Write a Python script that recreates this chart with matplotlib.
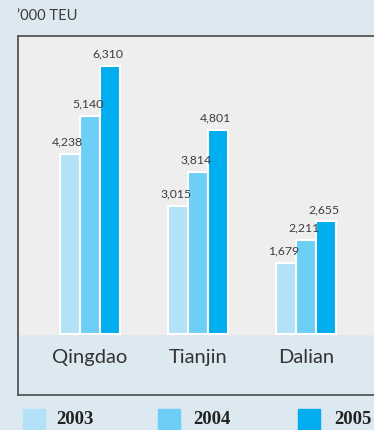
import matplotlib.pyplot as plt
import matplotlib.patches as mpatches
import numpy as np

# Container throughput, thousand TEU
ports = ['Qingdao', 'Tianjin', 'Dalian']
years = ['2003', '2004', '2005']
teu_2003 = [4238, 3015, 1679]
teu_2004 = [5140, 3814, 2211]
teu_2005 = [6310, 4801, 2655]
colors = ['#b3e1f7', '#6dcff6', '#00aeef']

W, H = 374, 431
fig = plt.figure(figsize=(W / 100, H / 100), dpi=100)
fig.patch.set_facecolor('#dde9f1')

# panel in pixel units: left 18, top 37, bottom 396, runs off the right edge
ax = fig.add_axes([18 / W, (H - 396) / H, (W + 4 - 18) / W, (396 - 37) / H])
ax.set_facecolor('#dde9f1')

px_per_unit = 268 / 6310
y_lo = -(396 - 335) / px_per_unit
y_hi = (335 - 37) / px_per_unit
ax.set_ylim(y_lo, y_hi)
ax.set_xlim((18 - 90) / 108, (W + 4 - 90) / 108)
ax.axhspan(0, y_hi, color='#eeeeee', zorder=0)

x = np.arange(len(ports))
bw = 20 / 108
for i, (vals, c) in enumerate(zip([teu_2003, teu_2004, teu_2005], colors)):
    xs = x + (i - 1) * bw
    ax.bar(xs, vals, width=bw, color=c, edgecolor='white', linewidth=1.5, zorder=2)
    for xi, v in zip(xs, vals):
        ax.text(xi - 0.02, v + 170, f'{v:,}', ha='center', va='bottom', fontsize=8.8,
                color='#3d3d3d', family='Lato')

for xi, name in zip(x, ports):
    ax.text(xi, -330, name, ha='center', va='top', fontsize=14.5,
            color='#333333', family='Lato')

ax.set_xticks([])
ax.set_yticks([])
for side in ['left', 'top', 'bottom']:
    ax.spines[side].set_color('#555555')
    ax.spines[side].set_linewidth(1.3)
ax.spines['right'].set_visible(False)

fig.text(17 / W, 1 - 16 / H, '’000 TEU', ha='left', va='center', fontsize=10.5,
         color='#3a3a3a', family='Lato')

# legend row along the bottom edge
sq_x = [23, 158, 298]
lab_x = [56, 193, 334]
for sx, lx, yr, c in zip(sq_x, lab_x, years, colors):
    fig.add_artist(mpatches.Rectangle((sx / W, 0), 22 / W, 21 / H, color=c,
                                      transform=fig.transFigure))
    fig.text(lx / W, (H - 420) / H, yr, ha='left', va='center', fontsize=13.5,
             fontweight='bold', family='Liberation Serif', color='#222222')

fig.savefig('out.png', dpi=100, facecolor=fig.get_facecolor())
